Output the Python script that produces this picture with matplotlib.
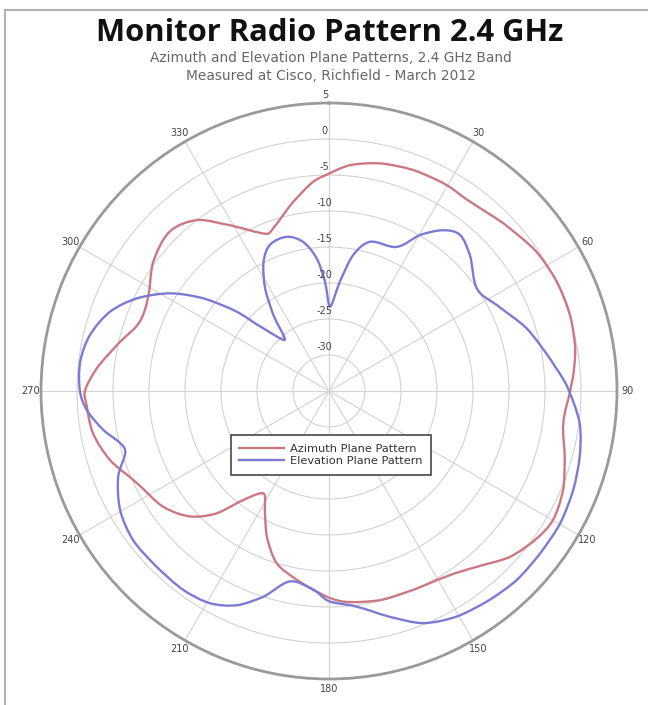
import numpy as np
import matplotlib
matplotlib.use("Agg")
import matplotlib.pyplot as plt
from matplotlib.lines import Line2D
from matplotlib.patches import PathPatch
from matplotlib.path import Path
from matplotlib.transforms import offset_copy

# Azimuth plane pattern (angle in degrees, gain in dB)
az_angle = [0, 5.3, 12.6, 20.9, 29.7, 36.7, 46.1, 56.1, 64.4, 72.5, 80.2, 86.3,
            90, 97.8, 105.6, 112.9, 119.9, 125.3, 132.5, 140, 147.6, 157, 166.3,
            175.2, 180, 189.7, 196.9, 203.1, 208.3, 212.7, 218.2, 222.6, 227.9,
            235.1, 244.4, 252.5, 259.8, 266.3, 270, 275.6, 283.3, 290.1, 298,
            306.3, 315, 322.3, 329.2, 337.4, 341.1, 349.3, 355.7, 360]
az_gain = [-4.8, -3.5, -2.6, -2.15, -2.05, -2.2, -1.4, -0.3, 0.1, 0.1, -0.3, -1.0,
           -1.5, -2.15, -1.0, 0.3, 0.9, 0.4, -0.9, -3.1, -4.5, -5.0, -5.1,
           -5.6, -6.3, -8.4, -10.0, -13.0, -16.2, -18.1, -15.7, -11.9, -9.0,
           -6.9, -5.4, -3.1, -1.7, -1.3, -1.1, -2.6, -5.2, -7.0, -6.6,
           -4.7, -3.7, -5.0, -8.2, -11.3, -11.1, -8.25, -5.85, -4.8]

# Elevation plane pattern (angle in degrees, gain in dB)
el_angle = [0.7, 5.7, 10.1, 15.4, 25.1, 30.3, 35.4, 40, 46, 55.2, 62.9, 72.4,
            81.6, 88.6, 97.3, 104.7, 112, 119.8, 127.6, 135.2, 142.4, 150.5,
            157.9, 164.9, 172.7, 180, 184.5, 191.6, 197.7, 203.3, 209.3, 216.2,
            224.4, 232.7, 240.3, 247.9, 253, 256, 260.2, 265.5, 270, 276.7,
            283.2, 289.9, 295.7, 301.6, 306.4, 310.7, 313.7, 319.2, 323.8,
            328.1, 333.1, 338, 344.7, 350.2, 354.7, 357.9, 360.7]
el_gain = [-23.3, -19.7, -15.8, -13.5, -12.9, -9.9, -7.6, -6.7, -7.8, -10.0, -8.8, -6.2,
           -4.0, -2.0, 0.1, 1.0, 1.6, 2.0, 2.0, 2.0, 1.6, 1.0,
           -0.2, -2.5, -4.8, -5.8, -7.3, -8.0, -5.0, -2.6, -1.2, -0.75,
           -0.8, -0.8, -1.6, -3.4, -5.4, -5.1, -3.2, -1.25, -0.4, -0.2,
           -0.9, -2.65, -5.35, -9.1, -13.3, -18.1, -22.4, -25.6, -21.9,
           -18.2, -14.9, -13.1, -12.8, -14.0, -16.5, -19.8, -23.3]

ring_db = [-30, -25, -20, -15, -10, -5, 0, 5]
ring_labels = ["-30", "-25", "-20", "-15", "-10", "-5", "0", "5"]
angle_ticks = [0, 30, 60, 90, 120, 150, 180, 210, 240, 270, 300, 330]
angle_labels = ["", "30", "60", "90", "120", "150", "180", "210", "240", "270", "300", "330"]
series_names = ["Azimuth Plane Pattern", "Elevation Plane Pattern"]

title = "Monitor Radio Pattern 2.4 GHz"
subtitle = ["Azimuth and Elevation Plane Patterns, 2.4 GHz Band",
            "Measured at Cisco, Richfield - March 2012"]

RED = "#cc7882"
BLUE = "#7b7bd4"
W, H = 648, 705


def smooth_closed_path(angle_deg, gain):
    """Closed smoothed-line path (Catmull-Rom style Bezier) in (theta, r) data space."""
    th = np.deg2rad(np.asarray(angle_deg[:-1], float))
    r = np.asarray(gain[:-1], float)
    n = len(th)
    pts = np.column_stack([th, r])

    def p(i):
        q = pts[i % n].copy()
        q[0] += 2 * np.pi * (i // n)
        return q

    verts = [p(0)]
    codes = [Path.MOVETO]
    for i in range(n):
        p0, p1, p2, p3 = p(i - 1), p(i), p(i + 1), p(i + 2)
        verts += [p1 + (p2 - p0) / 6, p2 - (p3 - p1) / 6, p2]
        codes += [Path.CURVE4] * 3
    return Path(np.array(verts), codes)


fig = plt.figure(figsize=(W / 100, H / 100), dpi=100)
fig.patch.set_facecolor("white")

cx, cy, R = 329, 391, 288
ax = fig.add_axes([(cx - R) / W, 1 - (cy + R) / H, 2 * R / W, 2 * R / H],
                  projection="polar")
ax.set_theta_zero_location("N")
ax.set_theta_direction(-1)
ax.set_ylim(-35, 5)

for (a, g, c) in [(az_angle, az_gain, RED), (el_angle, el_gain, BLUE)]:
    ax.add_patch(PathPatch(smooth_closed_path(a, g), facecolor="none",
                           edgecolor=c, lw=1.7, joinstyle="round",
                           transform=ax.transData, zorder=3))

ax.set_yticks(ring_db)
ax.set_yticklabels([])
ax.set_xticks(np.deg2rad(angle_ticks))
ax.set_xticklabels(angle_labels)
ax.tick_params(axis="x", pad=-3, labelsize=7, colors="#444444")
ax.grid(True, color="#d2d2d2", lw=0.8)
ax.spines["polar"].set_color("#9a9a9a")
ax.spines["polar"].set_linewidth(2.0)

# dB labels along the 0 degree spoke, just above each ring
lab_tr = offset_copy(ax.transData, fig=fig, x=-3, y=2, units="points")
for v, s in zip(ring_db, ring_labels):
    ax.text(0, v, s, transform=lab_tr, ha="center", va="bottom",
            fontsize=7, color="#444444", zorder=4)

handles = [Line2D([], [], color=RED, lw=1.7), Line2D([], [], color=BLUE, lw=1.7)]
leg = ax.legend(handles, series_names, loc="center",
                bbox_to_anchor=(331 / W, 1 - 455 / H),
                bbox_transform=fig.transFigure, fancybox=False,
                edgecolor="#555555", framealpha=1, fontsize=8.2,
                handlelength=3.9, borderpad=0.75, labelspacing=0.2,
                handletextpad=0.6, borderaxespad=0)
leg.get_frame().set_linewidth(1.3)
for t in leg.get_texts():
    t.set_color("#333333")

fig.text(330 / W, 1 - 33 / H, title, ha="center", va="center",
         fontsize=22.3, fontweight="bold", family="Open Sans", color="#111111")
fig.text(331 / W, 1 - 58 / H, subtitle[0], ha="center", va="center",
         fontsize=9.9, family="DejaVu Sans", color="#666666")
fig.text(331 / W, 1 - 76 / H, subtitle[1], ha="center", va="center",
         fontsize=9.9, family="DejaVu Sans", color="#666666")

# page frame on the left and top edges
fig.add_artist(Line2D([5 / W, 5 / W], [0, 1 - 10 / H], transform=fig.transFigure,
                      color="#b4b4b4", lw=1.5))
fig.add_artist(Line2D([5 / W, 1], [1 - 10 / H, 1 - 10 / H], transform=fig.transFigure,
                      color="#b4b4b4", lw=1.5))

fig.savefig("out.png", dpi=100, facecolor="white")
